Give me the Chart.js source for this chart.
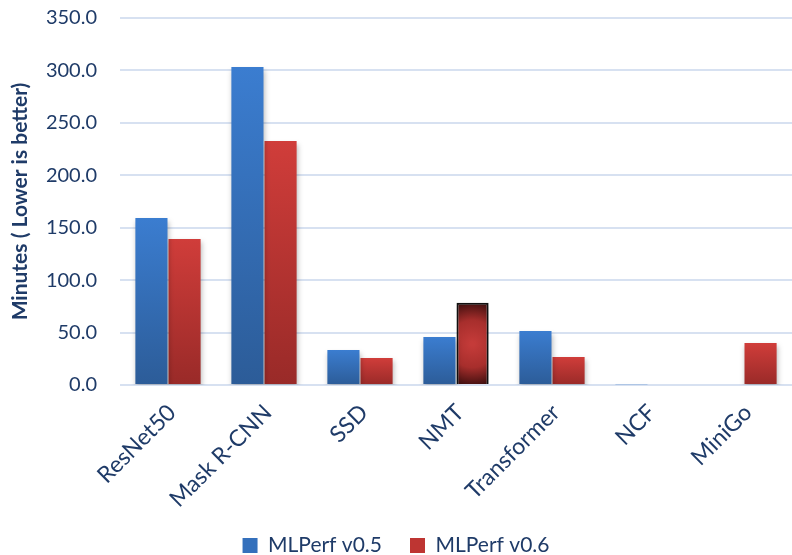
<!DOCTYPE html>
<html>
<head>
<meta charset="utf-8">
<script src="https://cdn.jsdelivr.net/npm/chart.js@4.4.1/dist/chart.umd.min.js"></script>
<style>
  html, body { margin: 0; padding: 0; background: #fff; }
  #wrap { width: 792px; height: 555px; position: relative; }
</style>
</head>
<body>
<div id="wrap"><canvas id="mlperfChart"></canvas></div>
<script>
        // Data
        const labels = ['ResNet50', 'Mask R-CNN', 'SSD', 'NMT', 'Transformer', 'NCF', 'MiniGo'];
        const v05Data = [159.3, 303.3, 33.4, 45.8, 51.5, 0.6, null];
        const v06Data = [139.2, 232.7, 25.7, 78.5, 26.7, null, 40.0];
        const yTicks = [0, 50, 100, 150, 200, 250, 300, 350];

        const textColor = '#1F3B68';
        const fontFamily = 'Lato, "Open Sans", sans-serif';
        const catPct = 0.69;

        // vertical gradient per bar: light at top, darker at bottom
        function barGradient(topColor, bottomColor) {
            return (c) => {
                const chart = c.chart;
                const y = chart.scales && chart.scales.y;
                const x = chart.scales && chart.scales.x;
                if (!y || !x || c.raw == null || c.type !== 'data') return topColor;
                const top = y.getPixelForValue(c.raw);
                const bottom = y.getPixelForValue(0);
                if (!isFinite(top) || !isFinite(bottom) || top === bottom) return topColor;
                // highlighted NMT bar: darker, vignette look
                if (c.datasetIndex === 1 && c.dataIndex === 3) {
                    const catW = x.width / labels.length;
                    const cx = x.getPixelForValue(3) + catW * catPct / 4;
                    const cy = (top + bottom) / 2;
                    if (isFinite(cx)) {
                        const g = chart.ctx.createRadialGradient(cx, cy, 2, cx, cy, (bottom - top) * 0.55);
                        g.addColorStop(0, '#C43B39');
                        g.addColorStop(0.5, '#A72E2C');
                        g.addColorStop(1, '#2E0A0A');
                        return g;
                    }
                }
                const g = chart.ctx.createLinearGradient(0, top, 0, bottom);
                g.addColorStop(0, topColor);
                g.addColorStop(1, bottomColor);
                return g;
            };
        }

        // soft drop shadow under the bars
        const barShadowPlugin = {
            id: 'barShadow',
            beforeDatasetsDraw: (chart) => {
                const ctx = chart.ctx;
                ctx.save();
                ctx.shadowColor = 'rgba(0, 0, 0, 0.25)';
                ctx.shadowBlur = 5;
                ctx.shadowOffsetX = 1;
                ctx.shadowOffsetY = 3;
            },
            afterDatasetsDraw: (chart) => {
                chart.ctx.restore();
            }
        };

        const ctx = document.getElementById('mlperfChart').getContext('2d');
        new Chart(ctx, {
            type: 'bar',
            data: {
                labels: labels,
                datasets: [
                    {
                        label: 'MLPerf v0.5', data: v05Data,
                        backgroundColor: barGradient('#3B7DD0', '#2C5C98'),
                        borderWidth: 0,
                        barPercentage: 0.97, categoryPercentage: catPct
                    },
                    {
                        label: 'MLPerf v0.6', data: v06Data,
                        backgroundColor: barGradient('#D03D3A', '#992A28'),
                        borderColor: labels.map((l, i) => i === 3 ? '#111111' : 'rgba(0,0,0,0)'),
                        borderWidth: labels.map((l, i) => i === 3 ? 2 : 0),
                        barPercentage: 0.97, categoryPercentage: catPct
                    }
                ]
            },
            options: {
                responsive: true, maintainAspectRatio: false, animation: false,
                layout: { padding: { top: 18, right: 0, left: 0, bottom: -11 } },
                scales: {
                    x: {
                        grid: { display: false },
                        border: { display: false },
                        afterFit: (axis) => { axis.height = 122; },
                        ticks: {
                            color: textColor, font: { family: fontFamily, size: 23 },
                            minRotation: 45, maxRotation: 45, padding: 6, labelOffset: 4
                        }
                    },
                    y: {
                        min: 0, max: 350,
                        afterBuildTicks: (axis) => { axis.ticks = yTicks.map(v => ({ value: v })); },
                        afterFit: (axis) => { axis.width = 120; },
                        grid: { color: '#D7E1F1', lineWidth: 2, drawTicks: true, tickLength: 20, tickColor: 'rgba(0,0,0,0)' },
                        border: { display: false },
                        ticks: {
                            color: textColor, font: { family: fontFamily, size: 20 }, padding: 3,
                            callback: (v) => Number(v).toFixed(1)
                        },
                        title: {
                            display: true, text: 'Minutes ( Lower is better)', color: textColor,
                            font: { family: fontFamily, size: 21, weight: 'bold' }, padding: { top: 8, bottom: 0 }
                        }
                    }
                },
                plugins: {
                    legend: {
                        position: 'bottom',
                        labels: {
                            color: textColor, font: { family: fontFamily, size: 21 },
                            boxWidth: 15, boxHeight: 15, padding: 28,
                            generateLabels: (chart) => chart.data.datasets.map((d, i) => ({
                                text: d.label,
                                fillStyle: i === 0 ? '#3470BC' : '#BE3532',
                                strokeStyle: 'rgba(0,0,0,0)', lineWidth: 0,
                                datasetIndex: i, fontColor: textColor
                            }))
                        }
                    },
                    tooltip: { enabled: false }
                }
            },
            plugins: [barShadowPlugin]
        });
</script>
</body>
</html>
